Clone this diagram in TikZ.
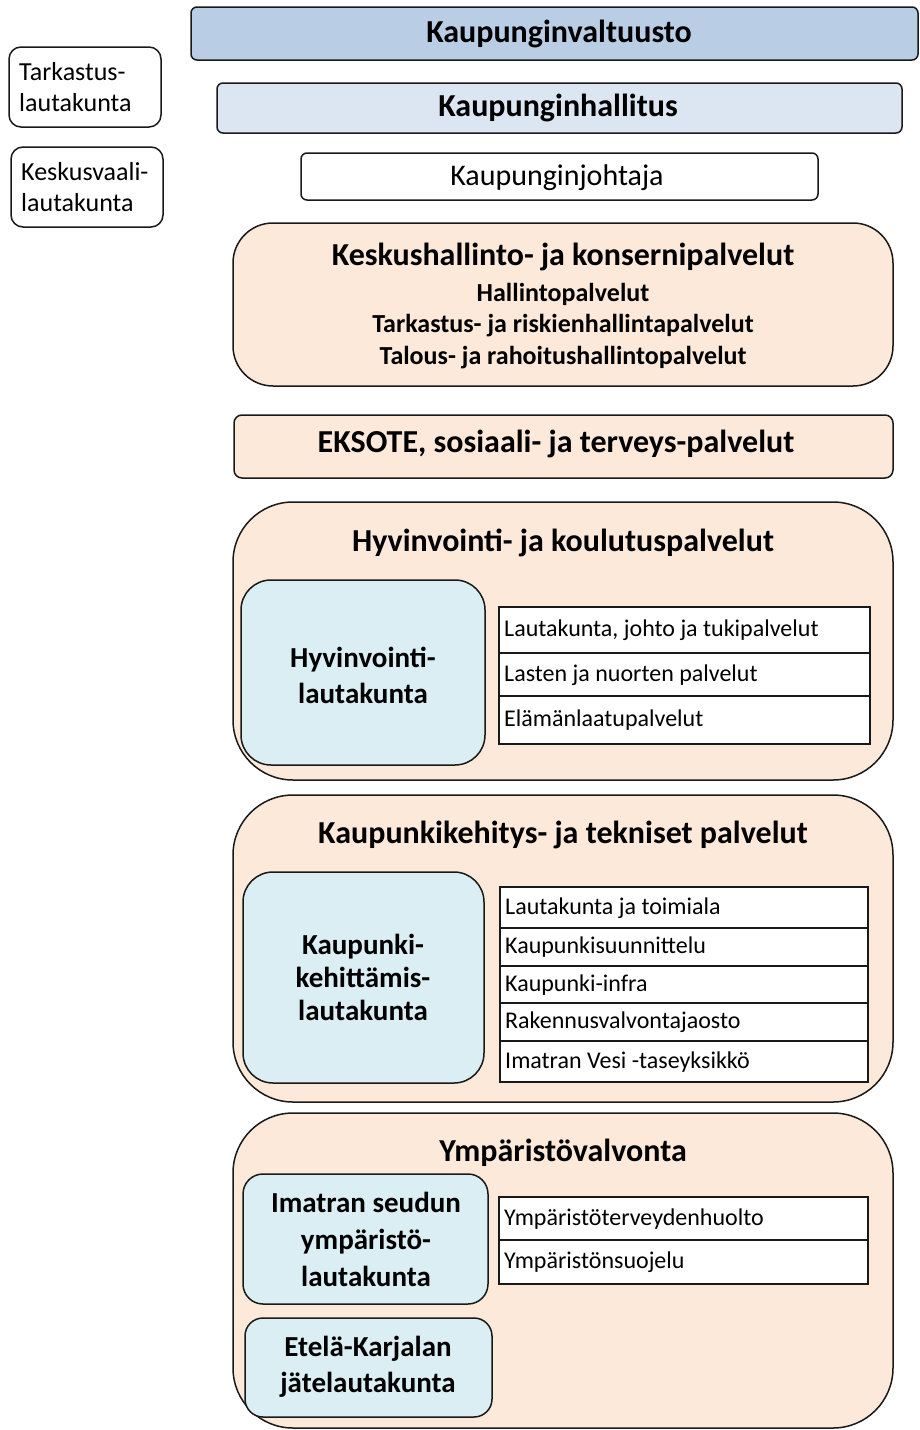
\documentclass[tikz,border=0pt]{standalone}
\usepackage{fontspec}
\setmainfont{Carlito}
\usepackage{tikz}
\usetikzlibrary{positioning}

\definecolor{valtblue}{HTML}{B9CDE5}
\definecolor{hallblue}{HTML}{DCE6F2}
\definecolor{peach}{HTML}{FDE9D9}
\definecolor{lautblue}{HTML}{DAEEF3}

\newcommand{\bigbold}{\fontsize{32}{38}\selectfont\bfseries}
\newcommand{\midbold}{\fontsize{26}{31}\selectfont\bfseries}
\newcommand{\lautbold}{\fontsize{29}{36}\selectfont\bfseries}
\newcommand{\cellfont}{\fontsize{24}{28}\selectfont}
\newcommand{\sidefont}{\fontsize{26}{31}\selectfont}

\tikzset{
  frame/.style={draw=black!90, line width=1.5pt},
  celltext/.style={anchor=west, inner sep=0pt, font=\cellfont},
  boxtext/.style={inner sep=0pt, align=center},
}

\begin{document}
\begin{tikzpicture}[x=1pt,y=-1pt]
\useasboundingbox (0,0) rectangle (920,1430);

% top level
\draw[frame, fill=valtblue, rounded corners=6pt] (191,7) rectangle (918,60);
\draw[frame, fill=hallblue, rounded corners=6pt] (217,83) rectangle (902,133);
\draw[frame, fill=white, rounded corners=6pt] (301,153) rectangle (818,200);
\draw[frame, rounded corners=12pt] (9,47) rectangle (161,127);
\draw[frame, rounded corners=12pt] (11,147) rectangle (163,227);

\node[boxtext, font=\bigbold] (valtuusto) at (559,33.5) {Kaupunginvaltuusto};
\node[boxtext, font=\bigbold] (hallitus) at (558,108) {Kaupunginhallitus};
\node[boxtext, font=\fontsize{30}{36}\selectfont] (johtaja) at (557,178) {Kaupunginjohtaja};
\node[boxtext, align=left, anchor=west, font=\sidefont] (tarkastus) at (19,87) {Tarkastus-\\lautakunta};
\node[boxtext, align=left, anchor=west, font=\sidefont] (vaali) at (21,187) {Keskusvaali-\\lautakunta};

% keskushallinto
\draw[frame, fill=peach, rounded corners=40pt] (233,223) rectangle (893,386);
\node[boxtext, font=\bigbold] (keskus) at (563,257) {Keskushallinto- ja konsernipalvelut};
\node[boxtext, font=\midbold] (hallinto) at (563,294) {Hallintopalvelut};
\node[boxtext, font=\midbold] (riski) at (563,326) {Tarkastus- ja riskienhallintapalvelut};
\node[boxtext, font=\midbold] (talous) at (563,358) {Talous- ja rahoitushallintopalvelut};

% eksote
\draw[frame, fill=peach, rounded corners=8pt] (234,415) rectangle (893,478);
\node[boxtext, font=\bigbold] (eksote) at (556,444) {EKSOTE, sosiaali- ja terveys-palvelut};

% hyvinvointi
\draw[frame, fill=peach, rounded corners=60pt] (233,502) rectangle (893,780);
\node[boxtext, font=\bigbold] (hyvtitle) at (563,543) {Hyvinvointi- ja koulutuspalvelut};
\draw[frame, fill=lautblue, rounded corners=30pt] (241,580) rectangle (485,765);
\node[boxtext, font=\lautbold] (hyvlauta) at (363,675) {Hyvinvointi-\\lautakunta};
\draw[frame, fill=white] (499,607) rectangle (870,653);
\draw[frame, fill=white] (499,653) rectangle (870,696);
\draw[frame, fill=white] (499,696) rectangle (870,744);
\node[celltext] (hyv1) at (504,630) {Lautakunta, johto ja tukipalvelut};
\node[celltext] (hyv2) at (504,675) {Lasten ja nuorten palvelut};
\node[celltext] (hyv3) at (504,720) {Elämänlaatupalvelut};

% kaupunkikehitys
\draw[frame, fill=peach, rounded corners=60pt] (233,795) rectangle (893,1102);
\node[boxtext, font=\bigbold] (kaktitle) at (563,835) {Kaupunkikehitys- ja tekniset palvelut};
\draw[frame, fill=lautblue, rounded corners=30pt] (243,872) rectangle (484,1083);
\node[boxtext, font=\fontsize{29}{33}\selectfont\bfseries] (kaklauta) at (363,977) {Kaupunki-\\kehittämis-\\lautakunta};
\draw[frame, fill=white] (500,887) rectangle (868,928);
\draw[frame, fill=white] (500,928) rectangle (868,966);
\draw[frame, fill=white] (500,966) rectangle (868,1003);
\draw[frame, fill=white] (500,1003) rectangle (868,1041);
\draw[frame, fill=white] (500,1041) rectangle (868,1082);
\node[celltext] (kak1) at (505,908) {Lautakunta ja toimiala};
\node[celltext] (kak2) at (505,947) {Kaupunkisuunnittelu};
\node[celltext] (kak3) at (505,985) {Kaupunki-infra};
\node[celltext] (kak4) at (505,1022) {Rakennusvalvontajaosto};
\node[celltext] (kak5) at (505,1062) {Imatran Vesi -taseyksikkö};

% ymparistovalvonta
\draw[frame, fill=peach, rounded corners=60pt] (233,1113) rectangle (893,1428);
\node[boxtext, font=\bigbold] (ymptitle) at (563,1153) {Ympäristövalvonta};
\draw[frame, fill=lautblue, rounded corners=20pt] (243,1174) rectangle (488,1304);
\node[boxtext, font=\fontsize{29}{37}\selectfont\bfseries] (ymplauta) at (366,1239) {Imatran seudun\\ympäristö-\\lautakunta};
\draw[frame, fill=lautblue, rounded corners=18pt] (245,1318) rectangle (492,1417);
\node[boxtext, font=\lautbold] (jatelauta) at (368,1367) {Etelä-Karjalan\\jätelautakunta};
\draw[frame, fill=white] (499,1197) rectangle (868,1240);
\draw[frame, fill=white] (499,1240) rectangle (868,1284);
\node[celltext] (ymp1) at (504,1219) {Ympäristöterveydenhuolto};
\node[celltext] (ymp2) at (504,1262) {Ympäristönsuojelu};
\end{tikzpicture}
\end{document}
